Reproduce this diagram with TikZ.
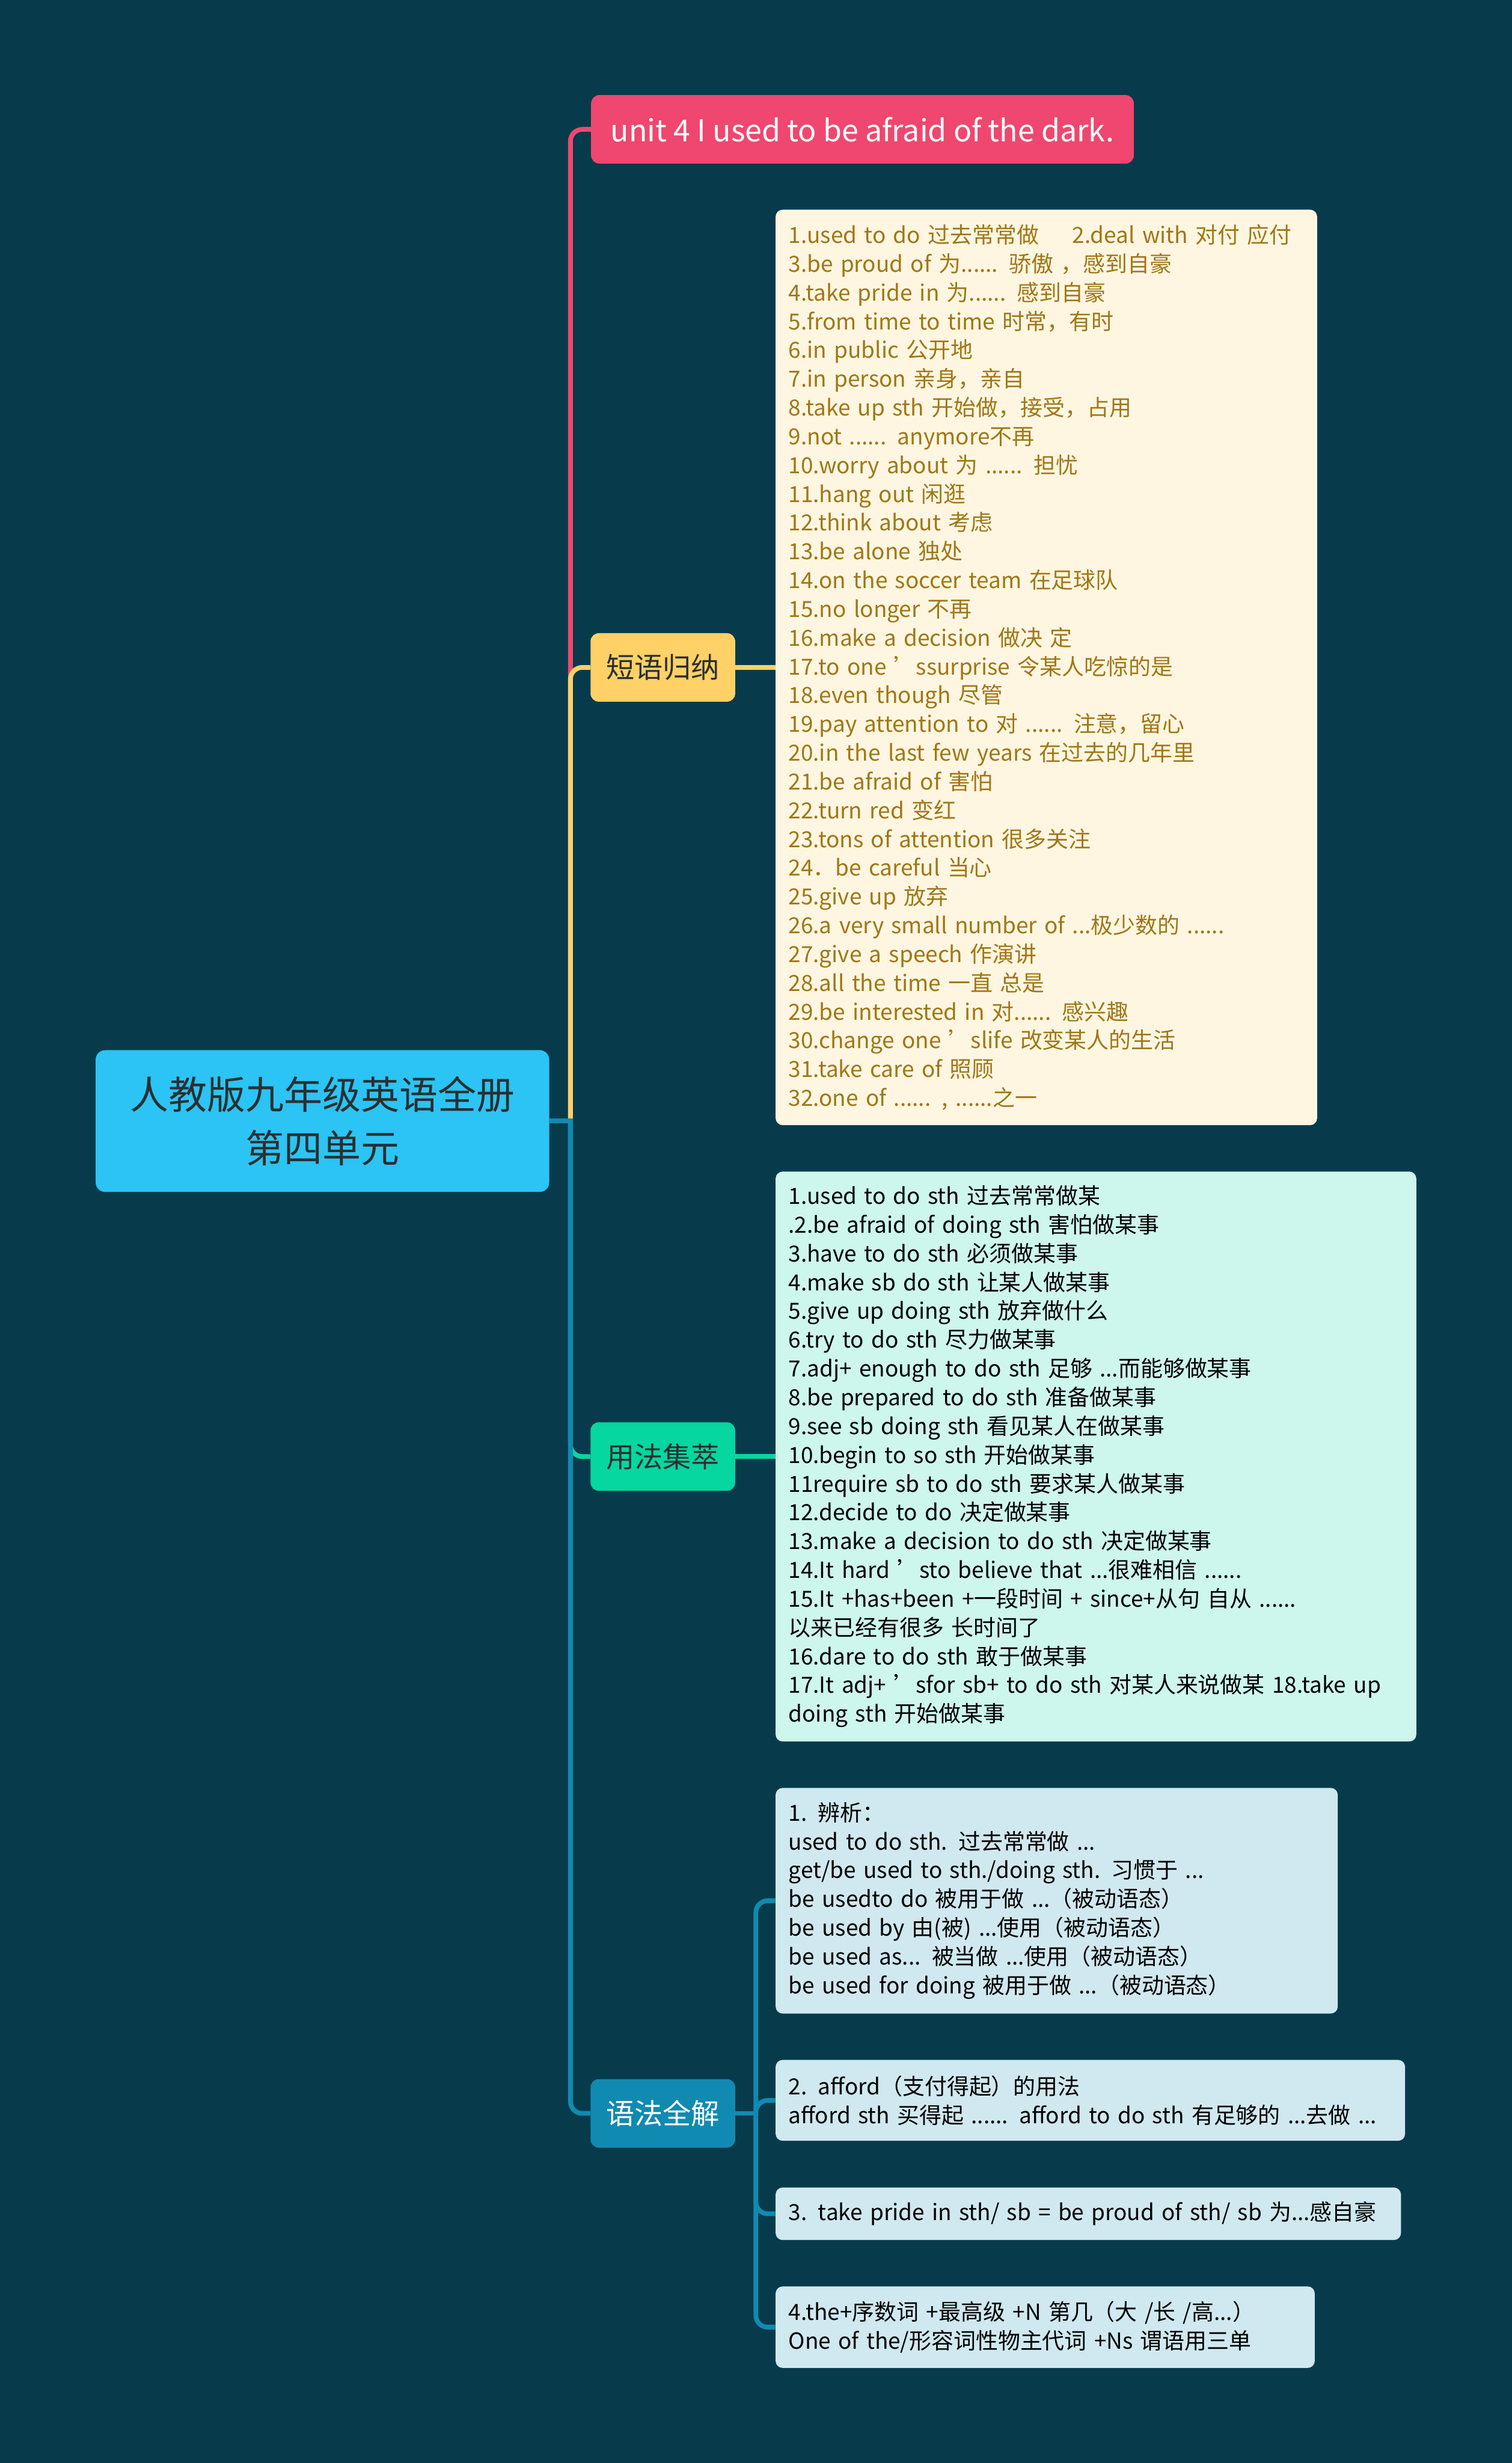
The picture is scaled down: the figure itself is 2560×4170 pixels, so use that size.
\documentclass[tikz,border=0pt]{standalone}
\usepackage{fontspec}
\setmainfont{Noto Sans CJK SC}
\definecolor{bg}{HTML}{073B4C}
\definecolor{rootblue}{HTML}{2BC4F4}
\definecolor{mpink}{HTML}{EF476F}
\definecolor{myellow}{HTML}{FFD166}
\definecolor{mgreen}{HTML}{06D6A0}
\definecolor{mblue}{HTML}{118AB2}
\definecolor{cream}{HTML}{FEF6E1}
\definecolor{mint}{HTML}{CDF6EC}
\definecolor{paleblue}{HTML}{D0E8F0}
\definecolor{gold}{HTML}{A07716}
\definecolor{ink}{HTML}{2A2F30}

\begin{document}
\begin{tikzpicture}[x=0.5pt,y=-0.5pt,
  topic/.style={rounded corners=7pt,minimum width=122.5pt,minimum height=58pt,
    inner sep=0pt,font=\fontsize{24pt}{28pt}\selectfont},
  leaf/.style={rounded corners=6pt,anchor=west,align=left,inner xsep=11pt,
    inner ysep=0pt,text=black,font=\fontsize{18.8pt}{24.35pt}\selectfont},
  link/.style={line width=4pt,rounded corners=10pt}]
  \fill[bg] (0,0) rectangle (2560,4170);

  \node[fill=rootblue,text=ink,rounded corners=8pt,minimum width=384pt,minimum height=120pt,
    align=center,font=\fontsize{32.6pt}{45pt}\selectfont] (root) at (546,1898)
    {人教版九年级英语全册\\第四单元};
  \node[fill=mpink,text=white,rounded corners=7pt,minimum width=459.5pt,minimum height=58pt,
    font=\fontsize{25.5pt}{30pt}\selectfont] (unit) at (1460.5,219)
    {unit 4 I used to be afraid of the dark.};
  \node[topic,fill=myellow,text=ink] (phr) at (1122.5,1130) {短语归纳};
  \node[topic,fill=mgreen,text=ink] (use) at (1122.5,2466) {用法集萃};
  \node[topic,fill=mblue,text=white] (gram) at (1122.5,3578) {语法全解};

  \node[leaf,fill=cream,text=gold,text width=436.5pt,minimum height=775pt] (phrbox) at (1313,1130)
    {1.used to do 过去常常做\hspace{1.5em}2.deal with 对付 应付\\
     3.be proud of 为...... 骄傲 ，感到自豪\\
     4.take pride in 为...... 感到自豪\\
     5.from time to time 时常，有时\\
     6.in public 公开地\\
     7.in person 亲身，亲自\\
     8.take up sth 开始做，接受，占用\\
     9.not ...... anymore不再\\
     10.worry about 为 ...... 担忧\\
     11.hang out 闲逛\\
     12.think about 考虑\\
     13.be alone 独处\\
     14.on the soccer team 在足球队\\
     15.no longer 不再\\
     16.make a decision 做决 定\\
     17.to one ’ssurprise 令某人吃惊的是\\
     18.even though 尽管\\
     19.pay attention to 对 ...... 注意，留心\\
     20.in the last few years 在过去的几年里\\
     21.be afraid of 害怕\\
     22.turn red 变红\\
     23.tons of attention 很多关注\\
     24．be careful 当心\\
     25.give up 放弃\\
     26.a very small number of ...极少数的 ......\\
     27.give a speech 作演讲\\
     28.all the time 一直 总是\\
     29.be interested in 对...... 感兴趣\\
     30.change one ’slife 改变某人的生活\\
     31.take care of 照顾\\
     32.one of ...... , ......之一};

  \node[leaf,fill=mint,text width=520.5pt,minimum height=482.5pt] (usebox) at (1313,2466)
    {1.used to do sth 过去常常做某\\
     .2.be afraid of doing sth 害怕做某事\\
     3.have to do sth 必须做某事\\
     4.make sb do sth 让某人做某事\\
     5.give up doing sth 放弃做什么\\
     6.try to do sth 尽力做某事\\
     7.adj+ enough to do sth 足够 ...而能够做某事\\
     8.be prepared to do sth 准备做某事\\
     9.see sb doing sth 看见某人在做某事\\
     10.begin to so sth 开始做某事\\
     11require sb to do sth 要求某人做某事\\
     12.decide to do 决定做某事\\
     13.make a decision to do sth 决定做某事\\
     14.It hard ’sto believe that ...很难相信 ......\\
     15.It +has+been +一段时间 + since+从句 自从 ......\\
     以来已经有很多 长时间了\\
     16.dare to do sth 敢于做某事\\
     17.It adj+ ’sfor sb+ to do sth 对某人来说做某 18.take up\\
     doing sth 开始做某事};

  \node[leaf,fill=paleblue,text width=454pt,minimum height=191pt] (g1) at (1313,3218)
    {1. 辨析：\\
     used to do sth. 过去常常做 ...\\
     get/be used to sth./doing sth. 习惯于 ...\\
     be usedto do 被用于做 ...（被动语态）\\
     be used by 由(被) ...使用（被动语态）\\
     be used as... 被当做 ...使用（被动语态）\\
     be used for doing 被用于做 ...（被动语态）};
  \node[leaf,fill=paleblue,text width=511pt,minimum height=68.5pt] (g2) at (1313,3556)
    {2. afford（支付得起）的用法\\
     afford sth 买得起 ...... afford to do sth 有足够的 ...去做 ...};
  \node[leaf,fill=paleblue,text width=507.5pt,minimum height=44.5pt] (g3) at (1313,3748)
    {3. take pride in sth/ sb = be proud of sth/ sb 为...感自豪};
  \node[leaf,fill=paleblue,text width=434.5pt,minimum height=69pt] (g4) at (1313,3940)
    {4.the+序数词 +最高级 +N 第几（大 /长 /高...）\\
     One of the/形容词性物主代词 +Ns 谓语用三单};

  % branches from the root
  \coordinate (hub) at (966,1898);
  \draw[link,mpink] (hub) |- (unit.west);
  \draw[link,myellow] (hub) |- (phr.west);
  \draw[link,mgreen] (hub) |- (use.west);
  \draw[link,mblue] (hub) |- (gram.west);
  \draw[line width=4pt,mblue] (root.east) -- ([xshift=2pt]hub);

  \draw[line width=4pt,myellow] (phr.east) -- (phrbox.west);
  \draw[line width=4pt,mgreen] (use.east) -- (usebox.west);

  \coordinate (gspine) at (1280,3578);
  \draw[line width=4pt,mblue] (gram.east) -- ([xshift=2pt]gspine);
  \foreach \g in {g1,g2,g3,g4}
    \draw[link,mblue] (gspine) |- (\g.west);
\end{tikzpicture}
\end{document}
